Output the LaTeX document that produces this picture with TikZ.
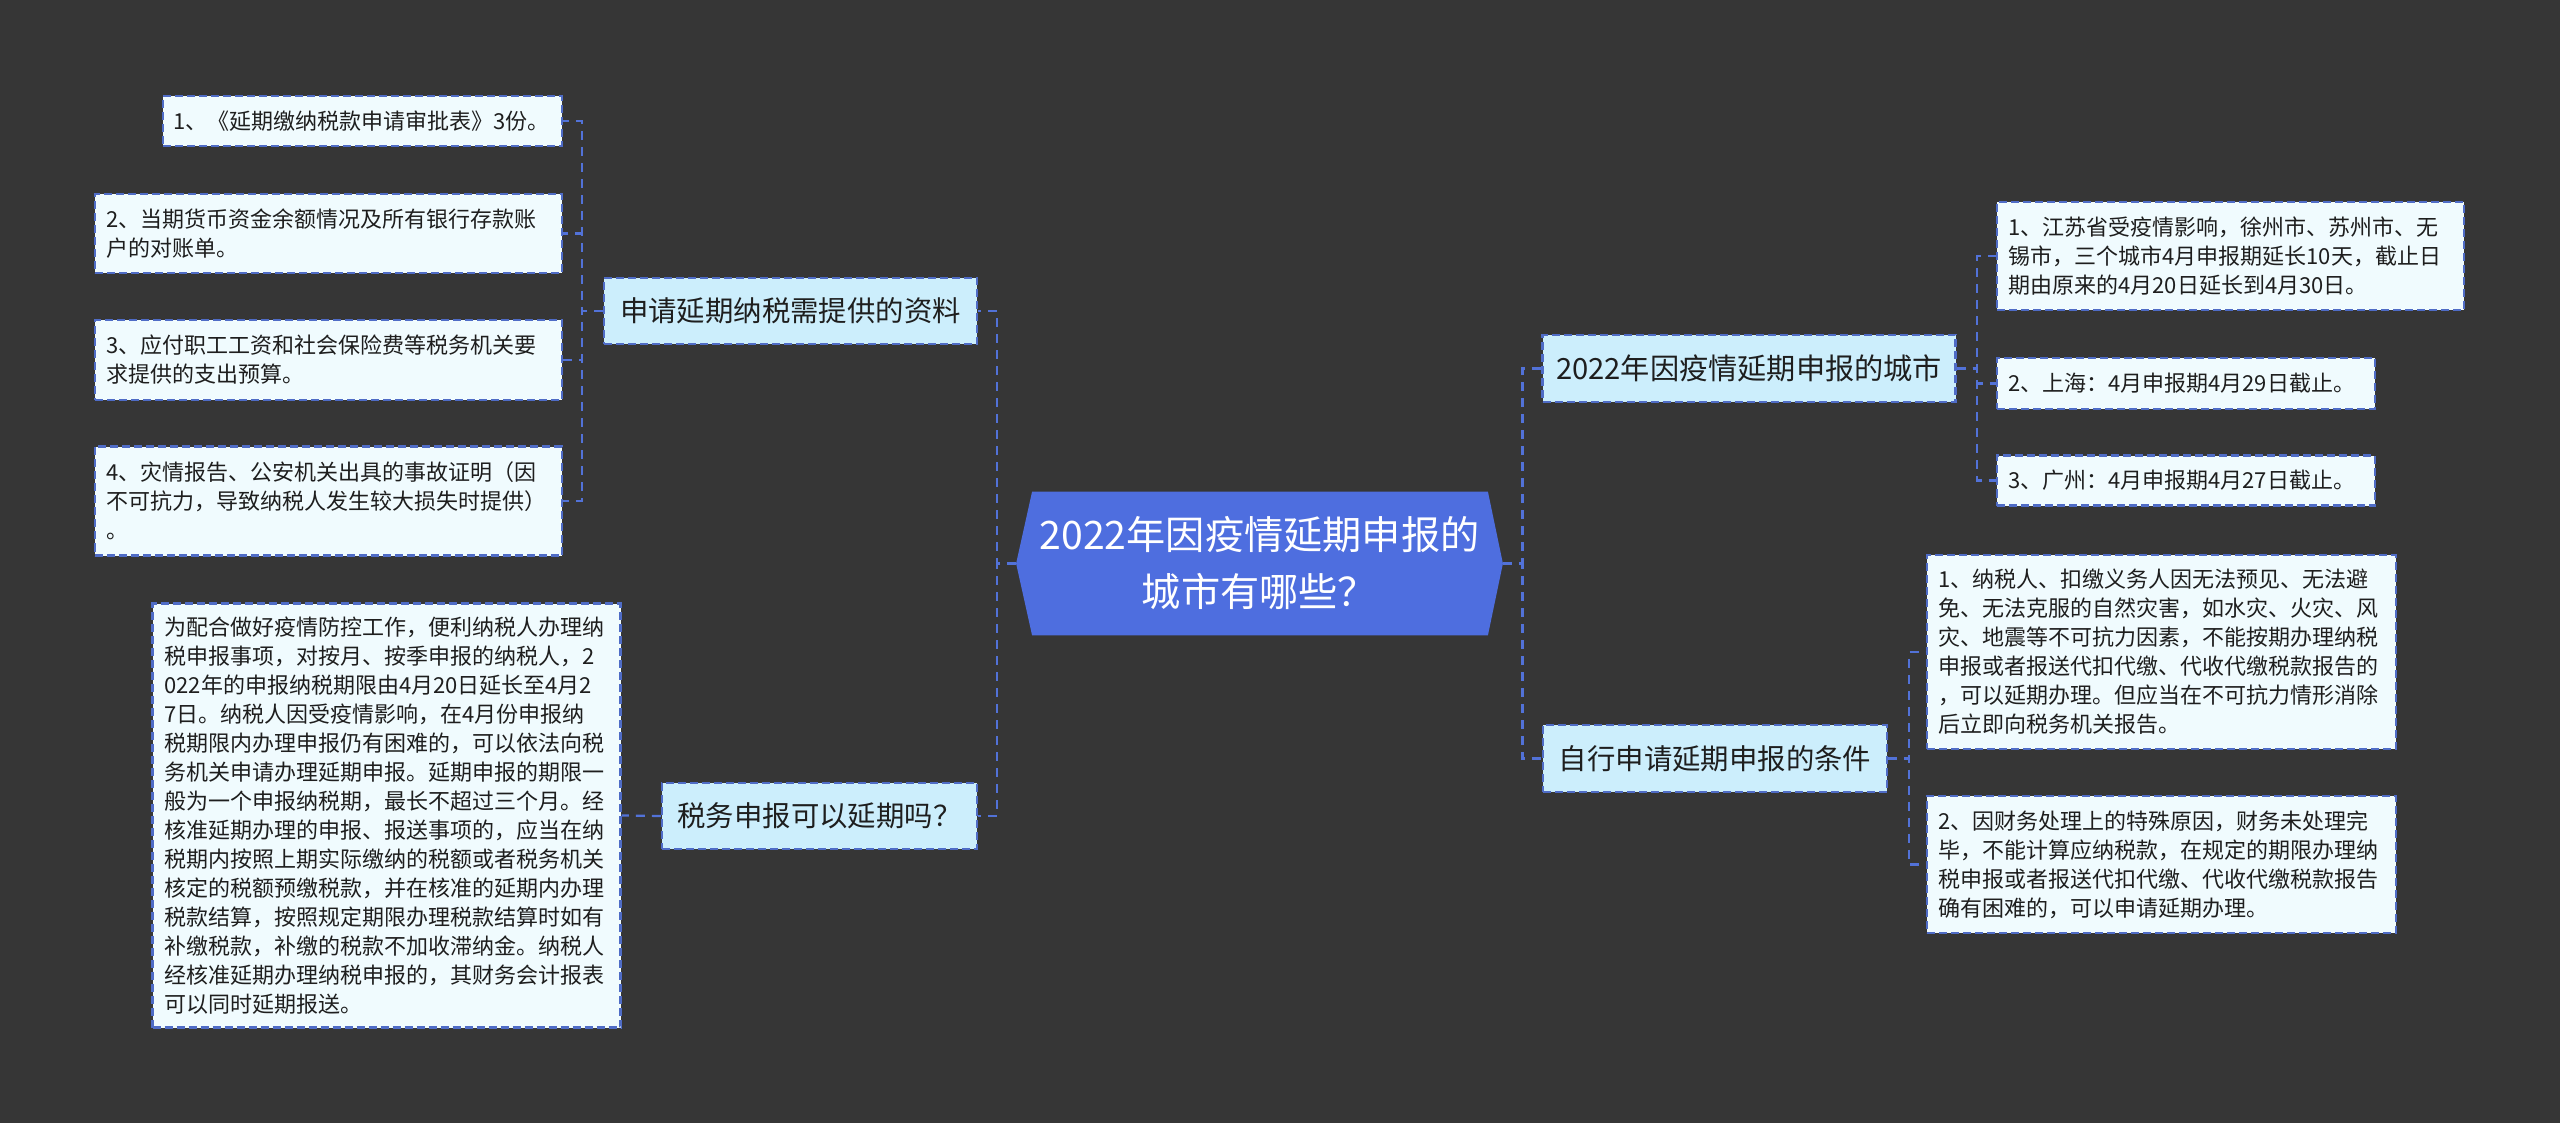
\documentclass[tikz,border=0pt]{standalone}
\usepackage{fontspec}
\newfontfamily\cjk{Noto Sans CJK SC}
\usetikzlibrary{backgrounds}
\definecolor{bgdark}{HTML}{363636}
\definecolor{rootblue}{HTML}{4E6EDF}
\definecolor{branchfill}{HTML}{CCEEFC}
\definecolor{leaffill}{HTML}{F0FBFE}
\definecolor{edgeblue}{HTML}{4F6CC6}
\definecolor{linkblue}{HTML}{5272D8}
\definecolor{inkdark}{HTML}{1E1E1E}

\begin{document}
\begin{tikzpicture}[x=0.5pt,y=-0.5pt,
  box/.style={rectangle,draw=edgeblue,line width=1.1pt,dash pattern=on 4pt off 2pt,
    inner sep=0pt,text=inkdark},
  leaf/.style={box,fill=leaffill,align=left,font=\cjk\fontsize{11}{14.5}\selectfont},
  branch/.style={box,fill=branchfill,font=\cjk\fontsize{14.2}{17}\selectfont},
  topic/.style={inner sep=0pt,align=center,text=white,font=\cjk\fontsize{19.6}{28.5}\selectfont},
  link/.style={draw=linkblue,line width=1.1pt,dash pattern=on 4.5pt off 3.5pt}]

  % centre topic
  \node[topic,minimum width=243pt,minimum height=71.5pt] (root) at (1259.5,563.5)
    {2022年因疫情延期申报的\\城市有哪些？};

  % left side
  \node[branch,minimum width=186.5pt,minimum height=33pt] (b1) at (790.5,311) {申请延期纳税需提供的资料};
  \node[branch,minimum width=157.5pt,minimum height=33pt] (b2) at (819.5,816) {税务申报可以延期吗？};

  \node[leaf,minimum width=199.5pt,minimum height=25pt,text width=189pt] (a1) at (362.5,121)
    {1、《延期缴纳税款申请审批表》3份。};
  \node[leaf,minimum width=233.5pt,minimum height=39.5pt,text width=222pt] (a2) at (328.5,233.5)
    {2、当期货币资金余额情况及所有银行存款账\\户的对账单。};
  \node[leaf,minimum width=233.5pt,minimum height=40pt,text width=222pt] (a3) at (328.5,360)
    {3、应付职工工资和社会保险费等税务机关要\\求提供的支出预算。};
  \node[leaf,minimum width=233.5pt,minimum height=54.5pt,text width=222pt] (a4) at (328.5,501)
    {4、灾情报告、公安机关出具的事故证明（因\\不可抗力，导致纳税人发生较大损失时提供）\\。};
  \node[leaf,minimum width=234pt,minimum height=212pt,text width=222pt] (big) at (386.5,815.5)
    {为配合做好疫情防控工作，便利纳税人办理纳\\
     税申报事项，对按月、按季申报的纳税人，2\\
     022年的申报纳税期限由4月20日延长至4月2\\
     7日。纳税人因受疫情影响，在4月份申报纳\\
     税期限内办理申报仍有困难的，可以依法向税\\
     务机关申请办理延期申报。延期申报的期限一\\
     般为一个申报纳税期，最长不超过三个月。经\\
     核准延期办理的申报、报送事项的，应当在纳\\
     税期内按照上期实际缴纳的税额或者税务机关\\
     核定的税额预缴税款，并在核准的延期内办理\\
     税款结算，按照规定期限办理税款结算时如有\\
     补缴税款，补缴的税款不加收滞纳金。纳税人\\
     经核准延期办理纳税申报的，其财务会计报表\\
     可以同时延期报送。};

  % right side
  \node[branch,minimum width=206.5pt,minimum height=33.5pt,font=\cjk\fontsize{14.6}{17}\selectfont] (r1)
    at (1749,368.5) {2022年因疫情延期申报的城市};
  \node[branch,minimum width=172pt,minimum height=33.5pt] (r2) at (1715,758.5) {自行申请延期申报的条件};

  \node[leaf,minimum width=233.5pt,minimum height=54pt,text width=222pt] (c1) at (2230.5,256)
    {1、江苏省受疫情影响，徐州市、苏州市、无\\锡市，三个城市4月申报期延长10天，截止日\\期由原来的4月20日延长到4月30日。};
  \node[leaf,minimum width=189pt,minimum height=25.5pt,text width=178pt] (c2) at (2186,383.5)
    {2、上海：4月申报期4月29日截止。};
  \node[leaf,minimum width=189pt,minimum height=25pt,text width=178pt] (c3) at (2186,480.5)
    {3、广州：4月申报期4月27日截止。};
  \node[leaf,minimum width=234.5pt,minimum height=97pt,text width=223pt] (d1) at (2161.5,652)
    {1、纳税人、扣缴义务人因无法预见、无法避\\免、无法克服的自然灾害，如水灾、火灾、风\\灾、地震等不可抗力因素，不能按期办理纳税\\申报或者报送代扣代缴、代收代缴税款报告的\\，可以延期办理。但应当在不可抗力情形消除\\后立即向税务机关报告。};
  \node[leaf,minimum width=234.5pt,minimum height=68.5pt,text width=223pt] (d2) at (2161.5,864.5)
    {2、因财务处理上的特殊原因，财务未处理完\\毕，不能计算应纳税款，在规定的期限办理纳\\税申报或者报送代扣代缴、代收代缴税款报告\\确有困难的，可以申请延期办理。};

  % connectors
  \foreach \b in {b1,b2}
    \draw[link] (root.west) -- ++(-19.5,0) |- (\b.east);
  \foreach \l in {a1,a2,a3,a4}
    \draw[link] (b1.west) -- ++(-21,0) |- (\l.east);
  \draw[link] (b2.west) -- (big.east);
  \foreach \b in {r1,r2}
    \draw[link] (root.east) -- ++(19.5,0) |- (\b.west);
  \foreach \l in {c1,c2,c3}
    \draw[link] (r1.east) -- ++(20.5,0) |- (\l.west);
  \foreach \l in {d1,d2}
    \draw[link] (r2.east) -- ++(21,0) |- (\l.west);

  \begin{pgfonlayer}{background}
    \fill[bgdark] (0,0) rectangle (2560,1123);
    \fill[rootblue] (root.west) -- ([xshift=8pt]root.north west) -- ([xshift=-7.5pt]root.north east)
      -- (root.east) -- ([xshift=-7.5pt]root.south east) -- ([xshift=8pt]root.south west) -- cycle;
  \end{pgfonlayer}
  \useasboundingbox (0,0) rectangle (2560,1123);
\end{tikzpicture}
\end{document}
